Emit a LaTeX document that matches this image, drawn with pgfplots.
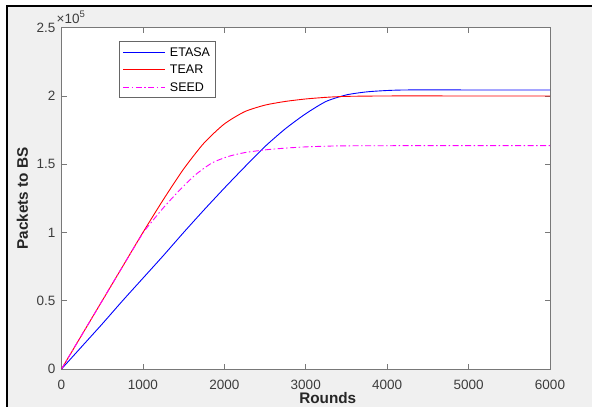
\documentclass[border=0pt]{standalone}
\usepackage{fontspec}
\setmainfont{Liberation Sans}
\usepackage{pgfplots}
\pgfplotsset{compat=1.18}

\definecolor{figbg}{RGB}{240,240,240}
\definecolor{axgrey}{RGB}{120,120,120}
\definecolor{txtgrey}{RGB}{60,60,60}
\definecolor{mblue}{RGB}{0,0,255}
\definecolor{mred}{RGB}{255,0,0}
\definecolor{mmag}{RGB}{255,0,255}

% legend samples set as coloured rules
\newcommand{\seg}[1]{\rule[-0.45pt]{#1}{0.9pt}}
\newcommand{\dashdot}{\seg{6pt}\hspace{2.5pt}\seg{1.5pt}\hspace{2.5pt}}

\begin{document}
\begin{tikzpicture}
% figure background (screenshot frame on left and top)
\fill[white] (0pt,0pt) rectangle (592pt,407pt);
\fill[black] (6pt,0pt) rectangle (592pt,402pt);
\fill[figbg] (8pt,0pt) rectangle (592pt,400pt);

\begin{axis}[
    at={(61.5pt,38pt)}, anchor=south west,
    scale only axis,
    width=488.5pt, height=341.3pt,
    axis background/.style={fill=white},
    xmin=0, xmax=6000,
    ymin=0, ymax=250000,
    xtick={0,1000,...,6000},
    ytick={0,50000,100000,150000,200000,250000},
    scaled x ticks=false,
    scaled y ticks=base 10:-5,
    ytick scale label code/.code={×10\raisebox{6.5pt}{\fontsize{9.5}{11}\selectfont 5}},
    every y tick scale label/.style={at={(rel axis cs:0,1)}, anchor=base west,
        inner sep=0pt, xshift=1pt, yshift=3.7pt, text=txtgrey,
        font=\fontsize{13.5}{16}\selectfont},
    /pgf/number format/assume math mode=true,
    /pgf/number format/1000 sep={},
    tick label style={font=\fontsize{13.5}{16}\selectfont, text=txtgrey, inner sep=0pt},
    xticklabel style={yshift=-11pt},
    yticklabel style={xshift=-6pt},
    axis line style={draw=axgrey, line width=1pt},
    tick style={draw=axgrey, line width=0.8pt},
    major tick length=5pt,
    xlabel={Rounds},
    ylabel={Packets to BS},
    label style={font=\fontsize{15.3}{18}\selectfont\bfseries, text=black!85, inner sep=0pt},
    xlabel style={at={(axis description cs:0.545,-0.0694)}, anchor=north},
    ylabel style={at={(axis description cs:-0.068,0.5)}, anchor=south},
    legend style={at={(axis description cs:0.1168,0.961)}, anchor=north west,
        draw=black!60, line width=0.8pt, fill=white,
        inner xsep=4pt, inner ysep=1.75pt,
        font=\fontsize{12.5}{15}\selectfont,
        nodes={inner sep=0pt, inner xsep=1.15pt, text depth=0pt},
        cells={anchor=west}},
]
\addplot[mblue, line width=0.9pt, smooth, tension=0.4,
    legend image code/.code={
        \node[inner sep=0pt, anchor=west] at (0pt,0pt) {\textcolor{mblue}{\seg{42pt}}};
        \pgfpathrectangle{\pgfpoint{0pt}{-8.75pt}}{\pgfpoint{45.85pt}{17.5pt}}%
        \pgfusepath{discard}}] coordinates {
    (0,0) (250,16500) (500,33000) (750,50000) (1000,66500) (1250,83000)
    (1500,100000) (1750,116500) (2000,132500) (2250,148000) (2500,163000)
    (2750,176000) (3000,187000) (3250,196000) (3500,200800) (3750,203000)
    (4000,204000) (4250,204400) (5000,204400) (6000,204400)};
\addplot[mred, line width=0.9pt, smooth, tension=0.4,
    legend image code/.code={
        \node[inner sep=0pt, anchor=west] at (0pt,0pt) {\textcolor{mred}{\seg{42pt}}};
        \pgfpathrectangle{\pgfpoint{0pt}{-8.75pt}}{\pgfpoint{45.85pt}{17.5pt}}%
        \pgfusepath{discard}}] coordinates {
    (0,0) (250,25000) (500,50000) (750,75000) (1000,100000) (1250,124000)
    (1500,146500) (1750,165500) (2000,179500) (2250,188500) (2500,193300)
    (2750,196000) (3000,197800) (3250,199000) (3500,199700) (4000,200000)
    (5000,200000) (6000,200000)};
\addplot[mmag, line width=0.9pt, smooth, tension=0.4,
    dash pattern=on 6pt off 2.5pt on 1.5pt off 2.5pt,
    legend image code/.code={
        \node[inner sep=0pt, anchor=west] at (0pt,0pt)
            {\textcolor{mmag}{\dashdot\dashdot\dashdot\seg{4.5pt}}};
        \pgfpathrectangle{\pgfpoint{0pt}{-8.75pt}}{\pgfpoint{45.85pt}{17.5pt}}%
        \pgfusepath{discard}}] coordinates {
    (0,0) (250,25000) (500,50000) (750,75000) (1000,99500) (1125,109000)
    (1250,118000) (1450,131000) (1650,142500) (1850,151000) (2050,155700)
    (2250,158500) (2500,160500) (2750,161800) (3000,162700) (3300,163300)
    (3600,163500) (4500,163600) (6000,163600)};
\legend{ETASA, TEAR, SEED}
\end{axis}
\pgfresetboundingbox
\path[use as bounding box] (0pt,0pt) rectangle (592pt,407pt);
\end{tikzpicture}
\end{document}
